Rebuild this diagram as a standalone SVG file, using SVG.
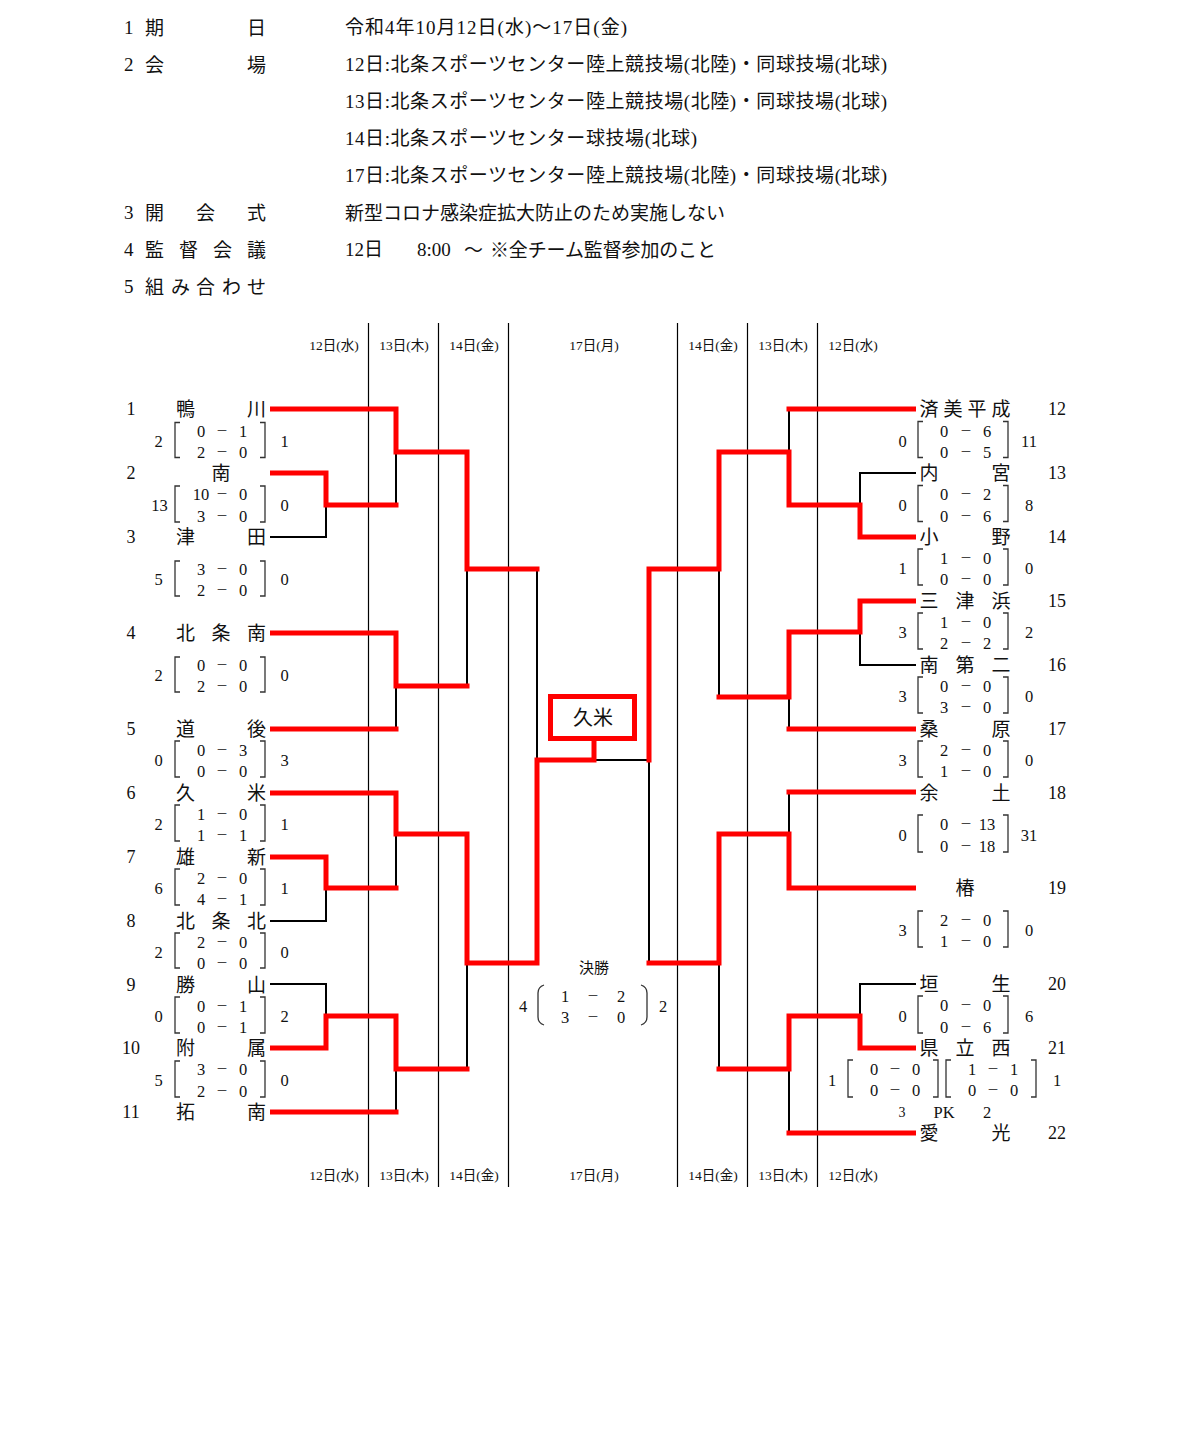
<svg xmlns="http://www.w3.org/2000/svg" width="1200" height="1442" viewBox="0 0 1200 1442">
<style>
.t{font-family:"Liberation Serif","Noto Sans CJK JP",serif;fill:#111;dominant-baseline:central}
.j{font-family:"Noto Sans CJK JP","Liberation Serif",sans-serif}
.hd{font-size:19px}
.nm{font-size:19px;text-anchor:middle}
.no{font-size:18px;text-anchor:middle}
.sc{font-size:16.5px;text-anchor:middle}
.ds{font-size:12px}
.dt{font-size:13.5px;text-anchor:middle}
.vl{stroke:#000;stroke-width:1.2;fill:none}
.bk{fill:none;stroke:#000;stroke-width:2}
.rd{fill:none;stroke:#f00;stroke-width:5;stroke-linejoin:miter}
.brk{fill:none;stroke:#333;stroke-width:1.3}
</style>
<rect width="1200" height="1442" fill="#fff"/>

<g id="header">
<text class="t hd" x="124" y="27">1</text><text class="t hd j" x="145 247" y="26">期日</text>
<text class="t hd" x="345" y="27" textLength="282">令和4年10月12日(水)～17日(金)</text>
<text class="t hd" x="124" y="64">2</text><text class="t hd j" x="145 247" y="63">会場</text>
<text class="t hd" x="345" y="64" textLength="542">12日:北条スポーツセンター陸上競技場(北陸)・同球技場(北球)</text>
<text class="t hd" x="345" y="101" textLength="542">13日:北条スポーツセンター陸上競技場(北陸)・同球技場(北球)</text>
<text class="t hd" x="345" y="138" textLength="352">14日:北条スポーツセンター球技場(北球)</text>
<text class="t hd" x="345" y="175" textLength="542">17日:北条スポーツセンター陸上競技場(北陸)・同球技場(北球)</text>
<text class="t hd" x="124" y="212">3</text><text class="t hd j" x="145 196 247" y="211">開会式</text>
<text class="t hd j" x="345" y="211" textLength="380">新型コロナ感染症拡大防止のため実施しない</text>
<text class="t hd" x="124" y="249">4</text><text class="t hd j" x="145 179 213 247" y="248">監督会議</text>
<text class="t hd" x="345" y="249">12日</text>
<text class="t hd" x="417" y="249">8:00</text>
<text class="t hd j" x="464" y="248">～</text>
<text class="t hd j" x="490" y="248" textLength="226">※全チーム監督参加のこと</text>
<text class="t hd" x="124" y="286">5</text><text class="t hd j" x="145 171 196 222 247" y="285">組み合わせ</text>
</g>

<g id="day-columns">
<path class="vl" d="M368.5 323V1187M438.5 323V1187M508.5 323V1187M677.5 323V1187M747.5 323V1187M817.5 323V1187"/>
<text class="t dt" x="334" y="345">12日(水)</text>
<text class="t dt" x="404" y="345">13日(木)</text>
<text class="t dt" x="474" y="345">14日(金)</text>
<text class="t dt" x="594" y="345">17日(月)</text>
<text class="t dt" x="713" y="345">14日(金)</text>
<text class="t dt" x="783" y="345">13日(木)</text>
<text class="t dt" x="853" y="345">12日(水)</text>
<text class="t dt" x="334" y="1175">12日(水)</text>
<text class="t dt" x="404" y="1175">13日(木)</text>
<text class="t dt" x="474" y="1175">14日(金)</text>
<text class="t dt" x="594" y="1175">17日(月)</text>
<text class="t dt" x="713" y="1175">14日(金)</text>
<text class="t dt" x="783" y="1175">13日(木)</text>
<text class="t dt" x="853" y="1175">12日(水)</text>
</g>

<g id="connectors">
<g id="lost-lines">
<path class="bk" d="M270 537H326V505M396 452V505M467 569V686M537 569V760M396 686V729M396 834V888M270 921H326V888M270 984H326V1016M467 963V1069M396 1069V1112M594 760H649V963"/>
<path class="bk" d="M789 409V452M916 473H860V505M719 569V697M916 665H860V632M789 697V729M789 792V834M719 963V1069M916 984H860V1016M789 1069V1133"/>
</g>
<g id="win-lines">
<path class="rd" d="M270 409H396V452H467V569H539.5"/>
<path class="rd" d="M270 473H326V505H398.5"/>
<path class="rd" d="M270 633H396V686H469.5"/>
<path class="rd" d="M270 729H398.5"/>
<path class="rd" d="M270 793H396V834H467V963H537V760H594V741"/>
<path class="rd" d="M270 857H326V888H398.5"/>
<path class="rd" d="M270 1048H326V1016H396V1069H469.5"/>
<path class="rd" d="M270 1112H398.5"/>
<path class="rd" d="M916 409H786.5"/>
<path class="rd" d="M916 537H860V505H789V452H719V569H649V762.5"/>
<path class="rd" d="M916 601H860V632H789V697H716.5"/>
<path class="rd" d="M916 729H786.5"/>
<path class="rd" d="M916 792H786.5"/>
<path class="rd" d="M916 888H789V834H719V963H646.5"/>
<path class="rd" d="M916 1048H860V1016H789V1069H716.5"/>
<path class="rd" d="M916 1133H786.5"/>
</g>
</g>

<g id="champion">
<rect x="550.5" y="696.5" width="84" height="42" fill="#fff" stroke="#f00" stroke-width="5"/>
<text class="t j" x="593" y="716.5" font-size="20" text-anchor="middle">久米</text>
</g>

<g id="team-1"><text class="t no" x="131" y="409">1</text><text class="t nm" x="185.5 256.5" y="409">鴨川</text></g>
<g id="team-2"><text class="t no" x="131" y="473">2</text><text class="t nm" x="221" y="473">南</text></g>
<g id="team-3"><text class="t no" x="131" y="537">3</text><text class="t nm" x="185.5 256.5" y="537">津田</text></g>
<g id="team-4"><text class="t no" x="131" y="633">4</text><text class="t nm" x="185.5 221 256.5" y="633">北条南</text></g>
<g id="team-5"><text class="t no" x="131" y="729">5</text><text class="t nm" x="185.5 256.5" y="729">道後</text></g>
<g id="team-6"><text class="t no" x="131" y="793">6</text><text class="t nm" x="185.5 256.5" y="793">久米</text></g>
<g id="team-7"><text class="t no" x="131" y="857">7</text><text class="t nm" x="185.5 256.5" y="857">雄新</text></g>
<g id="team-8"><text class="t no" x="131" y="921">8</text><text class="t nm" x="185.5 221 256.5" y="921">北条北</text></g>
<g id="team-9"><text class="t no" x="131" y="985">9</text><text class="t nm" x="185.5 256.5" y="985">勝山</text></g>
<g id="team-10"><text class="t no" x="131" y="1048">10</text><text class="t nm" x="185.5 256.5" y="1048">附属</text></g>
<g id="team-11"><text class="t no" x="131" y="1112">11</text><text class="t nm" x="185.5 256.5" y="1112">拓南</text></g>

<g id="team-12"><text class="t nm" x="929 953 977 1001" y="409">済美平成</text><text class="t no" x="1057" y="409">12</text></g>
<g id="team-13"><text class="t nm" x="929 1001" y="473">内宮</text><text class="t no" x="1057" y="473">13</text></g>
<g id="team-14"><text class="t nm" x="929 1001" y="537">小野</text><text class="t no" x="1057" y="537">14</text></g>
<g id="team-15"><text class="t nm" x="929 965 1001" y="601">三津浜</text><text class="t no" x="1057" y="601">15</text></g>
<g id="team-16"><text class="t nm" x="929 965 1001" y="665">南第二</text><text class="t no" x="1057" y="665">16</text></g>
<g id="team-17"><text class="t nm" x="929 1001" y="729">桑原</text><text class="t no" x="1057" y="729">17</text></g>
<g id="team-18"><text class="t nm" x="929 1001" y="793">余土</text><text class="t no" x="1057" y="793">18</text></g>
<g id="team-19"><text class="t nm" x="965" y="888">椿</text><text class="t no" x="1057" y="888">19</text></g>
<g id="team-20"><text class="t nm" x="929 1001" y="984">垣生</text><text class="t no" x="1057" y="984">20</text></g>
<g id="team-21"><text class="t nm" x="929 965 1001" y="1048">県立西</text><text class="t no" x="1057" y="1048">21</text></g>
<g id="team-22"><text class="t nm" x="929 1001" y="1133">愛光</text><text class="t no" x="1057" y="1133">22</text></g>

<g id="scores-left">
<g id="score-l1"><text class="t sc" x="158.5" y="441">2</text><path class="brk" d="M180 422.5H175V457.5H180M260 422.5H265V457.5H260"/><text class="t sc" y="430.5"><tspan x="201">0</tspan><tspan class="ds" x="222">－</tspan><tspan x="243">1</tspan></text><text class="t sc" y="451.5"><tspan x="201">2</tspan><tspan class="ds" x="222">－</tspan><tspan x="243">0</tspan></text><text class="t sc" x="284.5" y="441">1</text></g>
<g id="score-l2"><text class="t sc" x="159.5" y="505">13</text><path class="brk" d="M180 486H175V522H180M260 486H265V522H260"/><text class="t sc" y="494"><tspan x="201">10</tspan><tspan class="ds" x="222">－</tspan><tspan x="243">0</tspan></text><text class="t sc" y="515.5"><tspan x="201">3</tspan><tspan class="ds" x="222">－</tspan><tspan x="243">0</tspan></text><text class="t sc" x="284.5" y="505">0</text></g>
<g id="score-l3"><text class="t sc" x="158.5" y="579">5</text><path class="brk" d="M180 561H175V596H180M260 561H265V596H260"/><text class="t sc" y="569"><tspan x="201">3</tspan><tspan class="ds" x="222">－</tspan><tspan x="243">0</tspan></text><text class="t sc" y="590"><tspan x="201">2</tspan><tspan class="ds" x="222">－</tspan><tspan x="243">0</tspan></text><text class="t sc" x="284.5" y="579">0</text></g>
<g id="score-l4"><text class="t sc" x="158.5" y="675">2</text><path class="brk" d="M180 657H175V692H180M260 657H265V692H260"/><text class="t sc" y="665"><tspan x="201">0</tspan><tspan class="ds" x="222">－</tspan><tspan x="243">0</tspan></text><text class="t sc" y="686"><tspan x="201">2</tspan><tspan class="ds" x="222">－</tspan><tspan x="243">0</tspan></text><text class="t sc" x="284.5" y="675">0</text></g>
<g id="score-l5"><text class="t sc" x="158.5" y="760">0</text><path class="brk" d="M180 741H175V777H180M260 741H265V777H260"/><text class="t sc" y="749.5"><tspan x="201">0</tspan><tspan class="ds" x="222">－</tspan><tspan x="243">3</tspan></text><text class="t sc" y="771"><tspan x="201">0</tspan><tspan class="ds" x="222">－</tspan><tspan x="243">0</tspan></text><text class="t sc" x="284.5" y="760">3</text></g>
<g id="score-l6"><text class="t sc" x="158.5" y="824">2</text><path class="brk" d="M180 805H175V841H180M260 805H265V841H260"/><text class="t sc" y="813.5"><tspan x="201">1</tspan><tspan class="ds" x="222">－</tspan><tspan x="243">0</tspan></text><text class="t sc" y="835"><tspan x="201">1</tspan><tspan class="ds" x="222">－</tspan><tspan x="243">1</tspan></text><text class="t sc" x="284.5" y="824">1</text></g>
<g id="score-l7"><text class="t sc" x="158.5" y="888">6</text><path class="brk" d="M180 869H175V905H180M260 869H265V905H260"/><text class="t sc" y="877.5"><tspan x="201">2</tspan><tspan class="ds" x="222">－</tspan><tspan x="243">0</tspan></text><text class="t sc" y="899"><tspan x="201">4</tspan><tspan class="ds" x="222">－</tspan><tspan x="243">1</tspan></text><text class="t sc" x="284.5" y="888">1</text></g>
<g id="score-l8"><text class="t sc" x="158.5" y="952">2</text><path class="brk" d="M180 933H175V968H180M260 933H265V968H260"/><text class="t sc" y="941.5"><tspan x="201">2</tspan><tspan class="ds" x="222">－</tspan><tspan x="243">0</tspan></text><text class="t sc" y="962.5"><tspan x="201">0</tspan><tspan class="ds" x="222">－</tspan><tspan x="243">0</tspan></text><text class="t sc" x="284.5" y="952">0</text></g>
<g id="score-l9"><text class="t sc" x="158.5" y="1016">0</text><path class="brk" d="M180 997H175V1033H180M260 997H265V1033H260"/><text class="t sc" y="1006"><tspan x="201">0</tspan><tspan class="ds" x="222">－</tspan><tspan x="243">1</tspan></text><text class="t sc" y="1026.5"><tspan x="201">0</tspan><tspan class="ds" x="222">－</tspan><tspan x="243">1</tspan></text><text class="t sc" x="284.5" y="1016">2</text></g>
<g id="score-l10"><text class="t sc" x="158.5" y="1080">5</text><path class="brk" d="M180 1061H175V1097H180M260 1061H265V1097H260"/><text class="t sc" y="1069"><tspan x="201">3</tspan><tspan class="ds" x="222">－</tspan><tspan x="243">0</tspan></text><text class="t sc" y="1090.5"><tspan x="201">2</tspan><tspan class="ds" x="222">－</tspan><tspan x="243">0</tspan></text><text class="t sc" x="284.5" y="1080">0</text></g>
</g>

<g id="scores-right">
<g id="score-r1"><text class="t sc" x="902.5" y="441">0</text><path class="brk" d="M923 421.5H918V457.5H923M1003 421.5H1008V457.5H1003"/><text class="t sc" y="430.5"><tspan x="944">0</tspan><tspan class="ds" x="966">－</tspan><tspan x="987">6</tspan></text><text class="t sc" y="451.5"><tspan x="944">0</tspan><tspan class="ds" x="966">－</tspan><tspan x="987">5</tspan></text><text class="t sc" x="1029" y="441">11</text></g>
<g id="score-r2"><text class="t sc" x="902.5" y="505">0</text><path class="brk" d="M923 485.5H918V521.5H923M1003 485.5H1008V521.5H1003"/><text class="t sc" y="494"><tspan x="944">0</tspan><tspan class="ds" x="966">－</tspan><tspan x="987">2</tspan></text><text class="t sc" y="515.5"><tspan x="944">0</tspan><tspan class="ds" x="966">－</tspan><tspan x="987">6</tspan></text><text class="t sc" x="1029" y="505">8</text></g>
<g id="score-r3"><text class="t sc" x="902.5" y="568">1</text><path class="brk" d="M923 549H918V585H923M1003 549H1008V585H1003"/><text class="t sc" y="557.5"><tspan x="944">1</tspan><tspan class="ds" x="966">－</tspan><tspan x="987">0</tspan></text><text class="t sc" y="579"><tspan x="944">0</tspan><tspan class="ds" x="966">－</tspan><tspan x="987">0</tspan></text><text class="t sc" x="1029" y="568">0</text></g>
<g id="score-r4"><text class="t sc" x="902.5" y="632">3</text><path class="brk" d="M923 613H918V649H923M1003 613H1008V649H1003"/><text class="t sc" y="621.5"><tspan x="944">1</tspan><tspan class="ds" x="966">－</tspan><tspan x="987">0</tspan></text><text class="t sc" y="643"><tspan x="944">2</tspan><tspan class="ds" x="966">－</tspan><tspan x="987">2</tspan></text><text class="t sc" x="1029" y="632">2</text></g>
<g id="score-r5"><text class="t sc" x="902.5" y="696.5">3</text><path class="brk" d="M923 677H918V713H923M1003 677H1008V713H1003"/><text class="t sc" y="686"><tspan x="944">0</tspan><tspan class="ds" x="966">－</tspan><tspan x="987">0</tspan></text><text class="t sc" y="707"><tspan x="944">3</tspan><tspan class="ds" x="966">－</tspan><tspan x="987">0</tspan></text><text class="t sc" x="1029" y="696.5">0</text></g>
<g id="score-r6"><text class="t sc" x="902.5" y="760.5">3</text><path class="brk" d="M923 741H918V777H923M1003 741H1008V777H1003"/><text class="t sc" y="750"><tspan x="944">2</tspan><tspan class="ds" x="966">－</tspan><tspan x="987">0</tspan></text><text class="t sc" y="771"><tspan x="944">1</tspan><tspan class="ds" x="966">－</tspan><tspan x="987">0</tspan></text><text class="t sc" x="1029" y="760.5">0</text></g>
<g id="score-r7"><text class="t sc" x="902.5" y="835">0</text><path class="brk" d="M923 815H918V852H923M1003 815H1008V852H1003"/><text class="t sc" y="824"><tspan x="944">0</tspan><tspan class="ds" x="966">－</tspan><tspan x="987">13</tspan></text><text class="t sc" y="845.5"><tspan x="944">0</tspan><tspan class="ds" x="966">－</tspan><tspan x="987">18</tspan></text><text class="t sc" x="1029" y="835">31</text></g>
<g id="score-r8"><text class="t sc" x="902.5" y="930.5">3</text><path class="brk" d="M923 911H918V947H923M1003 911H1008V947H1003"/><text class="t sc" y="920"><tspan x="944">2</tspan><tspan class="ds" x="966">－</tspan><tspan x="987">0</tspan></text><text class="t sc" y="941"><tspan x="944">1</tspan><tspan class="ds" x="966">－</tspan><tspan x="987">0</tspan></text><text class="t sc" x="1029" y="930.5">0</text></g>
<g id="score-r9"><text class="t sc" x="902.5" y="1016">0</text><path class="brk" d="M923 996H918V1033H923M1003 996H1008V1033H1003"/><text class="t sc" y="1005"><tspan x="944">0</tspan><tspan class="ds" x="966">－</tspan><tspan x="987">0</tspan></text><text class="t sc" y="1026.5"><tspan x="944">0</tspan><tspan class="ds" x="966">－</tspan><tspan x="987">6</tspan></text><text class="t sc" x="1029" y="1016">6</text></g>
<g id="score-r10"><text class="t sc" x="832" y="1080">1</text><path class="brk" d="M853 1060H848V1097H853M933 1060H938V1097H933M951 1060H946V1097H951M1031 1060H1036V1097H1031"/><text class="t sc" y="1069"><tspan x="874">0</tspan><tspan class="ds" x="895">－</tspan><tspan x="916">0</tspan><tspan x="972">1</tspan><tspan class="ds" x="993">－</tspan><tspan x="1014">1</tspan></text><text class="t sc" y="1090"><tspan x="874">0</tspan><tspan class="ds" x="895">－</tspan><tspan x="916">0</tspan><tspan x="972">0</tspan><tspan class="ds" x="993">－</tspan><tspan x="1014">0</tspan></text><text class="t sc" x="1057" y="1080">1</text>
<text class="t sc" y="1112"><tspan x="902" font-size="14">3</tspan><tspan x="944">PK</tspan><tspan x="987">2</tspan></text></g>
</g>

<g id="final-score">
<text class="t j" x="594" y="966" font-size="15" text-anchor="middle">決勝</text>
<text class="t sc" x="523" y="1006">4</text>
<path class="brk" d="M544 985Q538 987 538 993V1017Q538 1023 544 1025M641 985Q647 987 647 993V1017Q647 1023 641 1025"/>
<text class="t sc" y="996"><tspan x="565">1</tspan><tspan class="ds" x="593">－</tspan><tspan x="621">2</tspan></text>
<text class="t sc" y="1017"><tspan x="565">3</tspan><tspan class="ds" x="593">－</tspan><tspan x="621">0</tspan></text>
<text class="t sc" x="663" y="1006">2</text>
</g>
</svg>
